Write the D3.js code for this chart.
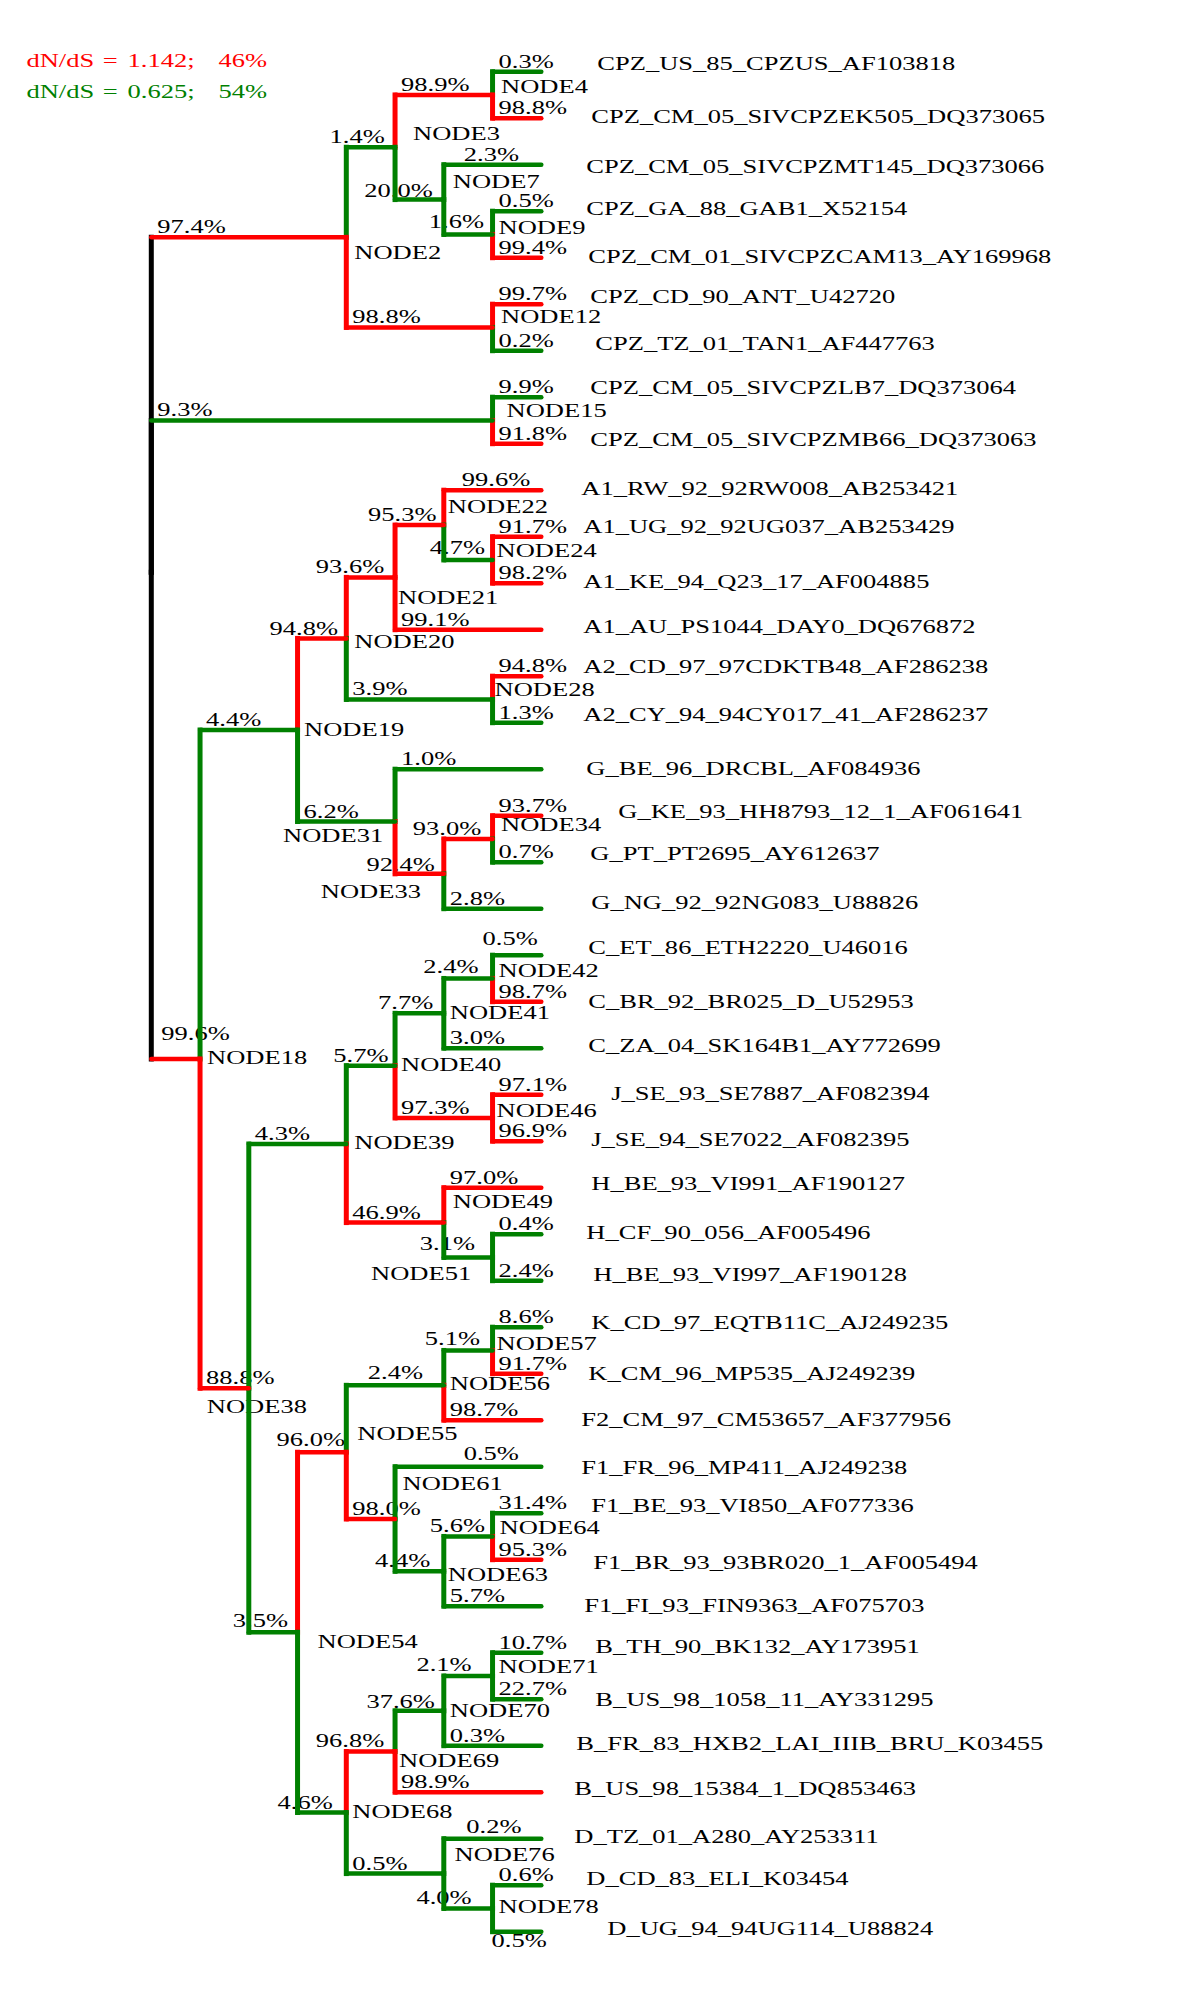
<!DOCTYPE html>
<html><head><meta charset="utf-8">
<script src="https://cdn.jsdelivr.net/npm/d3@7"></script>
<style>body{margin:0;background:#fff}svg{display:block}</style>
</head><body>
<svg id="chart" width="1200" height="2010"></svg>
<script>
// ---------- DATA ----------
const nodeIds = [
 "ROOT",
 "NODE2","NODE3","NODE4","CPZ_US_85_CPZUS_AF103818","CPZ_CM_05_SIVCPZEK505_DQ373065",
 "NODE7","CPZ_CM_05_SIVCPZMT145_DQ373066","NODE9","CPZ_GA_88_GAB1_X52154","CPZ_CM_01_SIVCPZCAM13_AY169968",
 "NODE12","CPZ_CD_90_ANT_U42720","CPZ_TZ_01_TAN1_AF447763",
 "NODE15","CPZ_CM_05_SIVCPZLB7_DQ373064","CPZ_CM_05_SIVCPZMB66_DQ373063",
 "NODE18","NODE19","NODE20","NODE21","NODE22","A1_RW_92_92RW008_AB253421","NODE24",
 "A1_UG_92_92UG037_AB253429","A1_KE_94_Q23_17_AF004885","A1_AU_PS1044_DAY0_DQ676872",
 "NODE28","A2_CD_97_97CDKTB48_AF286238","A2_CY_94_94CY017_41_AF286237",
 "NODE31","G_BE_96_DRCBL_AF084936","NODE33","NODE34","G_KE_93_HH8793_12_1_AF061641","G_PT_PT2695_AY612637",
 "G_NG_92_92NG083_U88826",
 "NODE38","NODE39","NODE40","NODE41","NODE42","C_ET_86_ETH2220_U46016","C_BR_92_BR025_D_U52953",
 "C_ZA_04_SK164B1_AY772699","NODE46","J_SE_93_SE7887_AF082394","J_SE_94_SE7022_AF082395",
 "NODE49","H_BE_93_VI991_AF190127","NODE51","H_CF_90_056_AF005496","H_BE_93_VI997_AF190128",
 "NODE54","NODE55","NODE56","NODE57","K_CD_97_EQTB11C_AJ249235","K_CM_96_MP535_AJ249239",
 "F2_CM_97_CM53657_AF377956","NODE61","F1_FR_96_MP411_AJ249238","NODE63","NODE64",
 "F1_BE_93_VI850_AF077336","F1_BR_93_93BR020_1_AF005494","F1_FI_93_FIN9363_AF075703",
 "NODE68","NODE69","NODE70","NODE71","B_TH_90_BK132_AY173951","B_US_98_1058_11_AY331295",
 "B_FR_83_HXB2_LAI_IIIB_BRU_K03455","B_US_98_15384_1_DQ853463",
 "NODE76","D_TZ_01_A280_AY253311","NODE78","D_CD_83_ELI_K03454","D_UG_94_94UG114_U88824"
];
const parentIds = [
 "",
 "ROOT","NODE2","NODE3","NODE4","NODE4",
 "NODE3","NODE7","NODE7","NODE9","NODE9",
 "NODE2","NODE12","NODE12",
 "ROOT","NODE15","NODE15",
 "ROOT","NODE18","NODE19","NODE20","NODE21","NODE22","NODE22",
 "NODE24","NODE24","NODE21",
 "NODE20","NODE28","NODE28",
 "NODE19","NODE31","NODE31","NODE33","NODE34","NODE34",
 "NODE33",
 "NODE18","NODE38","NODE39","NODE40","NODE41","NODE42","NODE42",
 "NODE41","NODE40","NODE46","NODE46",
 "NODE39","NODE49","NODE49","NODE51","NODE51",
 "NODE38","NODE54","NODE55","NODE56","NODE57","NODE57",
 "NODE56","NODE55","NODE61","NODE61","NODE63",
 "NODE64","NODE64","NODE63",
 "NODE54","NODE68","NODE69","NODE70","NODE71","NODE71",
 "NODE70","NODE69",
 "NODE68","NODE76","NODE76","NODE78","NODE78"
];
const supportPct = [
 null,
 97.4,1.4,98.9,0.3,98.8,
 20.0,2.3,1.6,0.5,99.4,
 98.8,99.7,0.2,
 9.3,9.9,91.8,
 99.6,4.4,94.8,93.6,95.3,99.6,4.7,
 91.7,98.2,99.1,
 3.9,94.8,1.3,
 6.2,1.0,92.4,93.0,93.7,0.7,
 2.8,
 88.8,4.3,5.7,7.7,2.4,0.5,98.7,
 3.0,97.3,97.1,96.9,
 46.9,97.0,3.1,0.4,2.4,
 3.5,96.0,2.4,5.1,8.6,91.7,
 98.7,98.0,0.5,4.4,5.6,
 31.4,95.3,5.7,
 4.6,96.8,37.6,2.1,10.7,22.7,
 0.3,98.9,
 0.5,0.2,4.0,0.6,0.5
];
const legendRatios = ["1.142;", "0.625;"];
const legendShares = ["46%", "54%"];

// ---------- STYLE / PLACEMENT ----------
const RED = "#ff0000", GREEN = "#008000";
const FS = 19.5;              // font size
const SX = 1.36;              // horizontal stretch of the original typesetting
const FONT = "'Liberation Serif','Times New Roman',serif";
const nodeLabelOffset = {
 NODE2:[8,22],NODE3:[18,-7],NODE4:[8.5,-2],NODE7:[9,-12],NODE9:[6,0],NODE12:[8.5,-4],
 NODE15:[14,-3],NODE18:[7,5],NODE19:[6.5,6],NODE20:[8,10],NODE21:[3,27],NODE22:[4,-12],
 NODE24:[4,-3],NODE28:[2,-3],NODE31:[-112,20],NODE33:[-123,24],NODE34:[8.5,-8],
 NODE38:[-42,25],NODE39:[8,5],NODE40:[6,5],NODE41:[6,6],NODE42:[6,-1],NODE46:[4,-1],
 NODE49:[9,-15],NODE51:[-121.5,23],NODE54:[20,16],NODE55:[11,-12],NODE56:[6,5],
 NODE57:[4,0],NODE61:[7.5,-29],NODE63:[4,10],NODE64:[7,-2],NODE68:[6,5],NODE69:[4,15],
 NODE70:[6,6],NODE71:[6,-3],NODE76:[10.7,-13],NODE78:[6,5]
};
const pctLabelOffset = {
 NODE3:[-16.7,-4],"CPZ_CM_05_SIVCPZMT145_DQ373066":[20,-4],NODE7:[-30.7,-3],NODE9:[-15,-6],
 "A1_RW_92_92RW008_AB253421":[18,-4],NODE22:[-27,-4],NODE24:[-14,-6],NODE21:[-30.5,-4],
 NODE20:[-28,-3],NODE34:[-31,-4],NODE33:[-28.6,-3],NODE18:[10,-19],NODE40:[-13,-4],
 NODE41:[-17,-4],NODE42:[-20.5,-5],"C_ET_86_ETH2220_U46016":[-10,-10],NODE51:[-24,-7],
 NODE54:[-16,-5],NODE55:[-21,-6],NODE56:[21.5,-6],NODE57:[-19,-5],
 "F1_FR_96_MP411_AJ249238":[68.6,-7],NODE63:[-20,-4],NODE64:[-14,-4],NODE68:[-20,-4],
 NODE69:[-30.5,-5],NODE70:[-28.6,-3],NODE71:[-27.4,-5],"D_TZ_01_A280_AY253311":[22.5,-6],
 NODE78:[-27.4,-4],"D_UG_94_94UG114_U88824":[-1,15]
};
const tipLabelOffset = {
 "CPZ_US_85_CPZUS_AF103818":[56,-2],"CPZ_CM_05_SIVCPZEK505_DQ373065":[50,5],
 "CPZ_CM_05_SIVCPZMT145_DQ373066":[45,8],"CPZ_GA_88_GAB1_X52154":[45,4],
 "CPZ_CM_01_SIVCPZCAM13_AY169968":[47,5],"CPZ_CD_90_ANT_U42720":[49,-1],
 "CPZ_TZ_01_TAN1_AF447763":[54,-1],"CPZ_CM_05_SIVCPZLB7_DQ373064":[49,-3],
 "CPZ_CM_05_SIVCPZMB66_DQ373063":[49,2],"A1_RW_92_92RW008_AB253421":[40,5],
 "A1_UG_92_92UG037_AB253429":[42,-4],"A1_KE_94_Q23_17_AF004885":[42,5],
 "A1_AU_PS1044_DAY0_DQ676872":[42,3],"A2_CD_97_97CDKTB48_AF286238":[42,-3],
 "A2_CY_94_94CY017_41_AF286237":[42,-2],"G_BE_96_DRCBL_AF084936":[45,6],
 "G_KE_93_HH8793_12_1_AF061641":[77,2],"G_PT_PT2695_AY612637":[49,-2],
 "G_NG_92_92NG083_U88826":[50,0],"C_ET_86_ETH2220_U46016":[47,-1],
 "C_BR_92_BR025_D_U52953":[47,6],"C_ZA_04_SK164B1_AY772699":[47,4],
 "J_SE_93_SE7887_AF082394":[70,5],"J_SE_94_SE7022_AF082395":[50,5],
 "H_BE_93_VI991_AF190127":[50,2],"H_CF_90_056_AF005496":[45,5],
 "H_BE_93_VI997_AF190128":[52,0],"K_CD_97_EQTB11C_AJ249235":[50,2],
 "K_CM_96_MP535_AJ249239":[47,6],"F2_CM_97_CM53657_AF377956":[40,6],
 "F1_FR_96_MP411_AJ249238":[40,7],"F1_BE_93_VI850_AF077336":[50,-1],
 "F1_BR_93_93BR020_1_AF005494":[52,9],"F1_FI_93_FIN9363_AF075703":[43,6],
 "B_TH_90_BK132_AY173951":[54,0],"B_US_98_1058_11_AY331295":[54,7],
 "B_FR_83_HXB2_LAI_IIIB_BRU_K03455":[35,4],"B_US_98_15384_1_DQ853463":[33,3],
 "D_TZ_01_A280_AY253311":[33,4],"D_CD_83_ELI_K03454":[45,0],"D_UG_94_94UG114_U88824":[66,3]
};

// ---------- BUILD ----------
const rows = nodeIds.map((id, i) => ({id, parentId: parentIds[i] || null, pct: supportPct[i]}));
const root = d3.stratify().id(d => d.id).parentId(d => d.parentId)(rows);
d3.cluster().separation(() => 1)(root);
const leaves = root.leaves();
const yScale = d3.scaleLinear().domain([leaves[0].x, leaves[leaves.length - 1].x]).range([71.7, 1931.7]);
const xScale = d3.scaleLinear().domain([0, 1]).range([151.3, 541.3]);
root.each(n => { n.px = xScale(n.y); n.py = yScale(n.x); });

const color = p => p == null ? "#000" : (p > 40 ? RED : GREEN);
const svg = d3.select("#chart");
svg.append("rect").attr("width", 1200).attr("height", 2010).attr("fill", "#fff");

const gText = svg.append("g").attr("font-family", FONT).attr("font-size", FS);
function addText(x, y, str, fill) {
  gText.append("text").attr("transform", `translate(${x},${y}) scale(${SX},1)`)
    .attr("fill", fill || "#000").text(str);
}

// legend
legendRatios.forEach((r, i) => {
  const y = 67.3 + i * 31, c = i === 0 ? RED : GREEN;
  addText(26.4, y, "dN/dS", c);
  addText(102.7, y, "=", c);
  addText(127.5, y, r, c);
  addText(218.6, y, legendShares[i], c);
});

// percentage labels
root.descendants().filter(n => n.parent).forEach(n => {
  const o = pctLabelOffset[n.id] || [6, -4];
  addText(n.parent.px + o[0], n.py + o[1], n.data.pct.toFixed(1) + "%");
});
// node labels
root.descendants().filter(n => n.children && n.parent).forEach(n => {
  const o = nodeLabelOffset[n.id] || [6, 0];
  addText(n.px + o[0], n.py + o[1], n.id);
});
// tip labels
leaves.forEach(n => {
  const o = tipLabelOffset[n.id] || [45, 3];
  addText(n.px + o[0], n.py + o[1], n.id);
});

// branches (drawn over the labels, as in the original)
const gLines = svg.append("g").attr("fill", "none");
root.descendants().filter(n => n.parent).forEach(n => {
  const p = n.parent, c = color(n.data.pct);
  gLines.append("line").attr("x1", p.px).attr("x2", p.px).attr("y1", p.py).attr("y2", n.py)
    .attr("stroke", p.parent ? c : "#000").attr("stroke-width", 5).attr("stroke-linecap", "square");
});
root.descendants().filter(n => n.parent).forEach(n => {
  const p = n.parent, c = color(n.data.pct);
  gLines.append("line").attr("x1", p.px).attr("x2", n.px).attr("y1", n.py).attr("y2", n.py)
    .attr("stroke", c).attr("stroke-width", 4.5).attr("stroke-linecap", "round");
});
</script>
</body></html>
